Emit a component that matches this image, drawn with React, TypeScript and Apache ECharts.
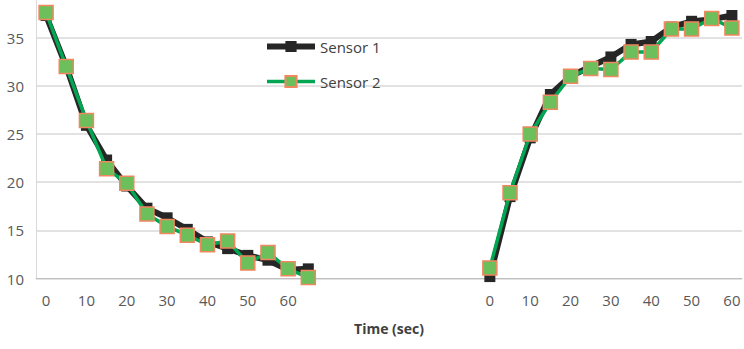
import React, { useEffect, useRef } from "react";
import * as echarts from "echarts";

// Sampling times (seconds) for the cooling run and the heating run
const coolingTimes = [0, 5, 10, 15, 20, 25, 30, 35, 40, 45, 50, 55, 60, 65];
const heatingTimes = [0, 5, 10, 15, 20, 25, 30, 35, 40, 45, 50, 55, 60];
// Number of empty slots separating the two runs on the category axis
const gapSlots = 8;

// Temperature readings (°C)
const sensor1Cooling = [37.3, 32.0, 25.9, 22.3, 19.6, 17.3, 16.3, 15.1, 13.8, 13.1, 12.4, 11.9, 10.9, 11.0];
const sensor2Cooling = [37.6, 32.0, 26.4, 21.4, 19.9, 16.7, 15.4, 14.5, 13.5, 13.9, 11.6, 12.7, 11.0, 10.1];
const sensor1Heating = [10.2, 18.5, 24.6, 29.1, 31.0, 32.0, 33.0, 34.3, 34.6, 36.1, 36.7, 36.9, 37.3];
const sensor2Heating = [11.1, 18.9, 25.0, 28.3, 31.0, 31.8, 31.7, 33.5, 33.5, 35.9, 35.9, 37.0, 36.0];

const yMin = 10;
const yMax = 40;
const yStep = 5;

// The plot's top band (above 38.9) runs past the top of the page
const topOverflow = 11;

export default function App() {
  const ref = useRef<HTMLDivElement>(null);

  useEffect(() => {
    if (!ref.current) return;
    const chart = echarts.init(ref.current, undefined, { renderer: "svg" });

    const categories: string[] = [
      ...coolingTimes.map(String),
      ...Array.from({ length: gapSlots }, () => ""),
      ...heatingTimes.map(String),
    ];
    const gap = Array.from({ length: gapSlots }, () => null);
    const s1 = [...sensor1Cooling, ...gap, ...sensor1Heating];
    const s2 = [...sensor2Cooling, ...gap, ...sensor2Heating];

    const font = "'Open Sans', sans-serif";

    chart.setOption({
      animation: false,
      textStyle: { fontFamily: font },
      grid: { left: 36, right: 2, top: 0.5, bottom: 70.5, containLabel: false },
      legend: {
        orient: "vertical",
        left: 259,
        top: 34 + topOverflow,
        itemWidth: 48,
        itemHeight: 14,
        itemGap: 20,
        textStyle: { color: "#404040", fontSize: 15, fontFamily: font },
        data: [
          { name: "Sensor 1", lineStyle: { width: 6, color: "#262626" } },
          { name: "Sensor 2", lineStyle: { width: 3.5, color: "#00a651" } },
        ],
      },
      xAxis: {
        type: "category",
        data: categories,
        boundaryGap: true,
        name: "Time (sec)",
        nameLocation: "middle",
        nameGap: 43,
        nameTextStyle: { color: "#404040", fontSize: 14, fontWeight: "bold", fontFamily: font },
        axisLine: { show: true, lineStyle: { color: "#bfbfbf", width: 1 } },
        axisTick: { show: false },
        axisLabel: { interval: 1, color: "#595959", fontSize: 15, margin: 14, fontFamily: font },
        splitLine: { show: false },
      },
      yAxis: {
        type: "value",
        min: yMin,
        max: yMax,
        interval: yStep,
        axisLine: { show: true, lineStyle: { color: "#d9d9d9", width: 1 } },
        axisTick: { show: false },
        axisLabel: { color: "#595959", fontSize: 15, margin: 12, fontFamily: font, showMaxLabel: false },
        splitLine: { show: true, lineStyle: { color: "#d9d9d9", width: 1.5 } },
      },
      series: [
        {
          name: "Sensor 1",
          type: "line",
          data: s1,
          connectNulls: false,
          showAllSymbol: true,
          symbol: "rect",
          symbolSize: 11,
          lineStyle: { color: "#262626", width: 6 },
          itemStyle: { color: "#262626" },
          z: 2,
        },
        {
          name: "Sensor 2",
          type: "line",
          data: s2,
          connectNulls: false,
          showAllSymbol: true,
          symbol: "rect",
          symbolSize: 14,
          lineStyle: { color: "#00a651", width: 3.5 },
          itemStyle: { color: "#6cbf5b", borderColor: "#f0875f", borderWidth: 1.5 },
          z: 3,
        },
      ],
    });

    return () => chart.dispose();
  }, []);

  return (
    <div
      ref={ref}
      style={{ width: 744, height: 349 + topOverflow, position: "absolute", left: 0, top: -topOverflow }}
    />
  );
}
